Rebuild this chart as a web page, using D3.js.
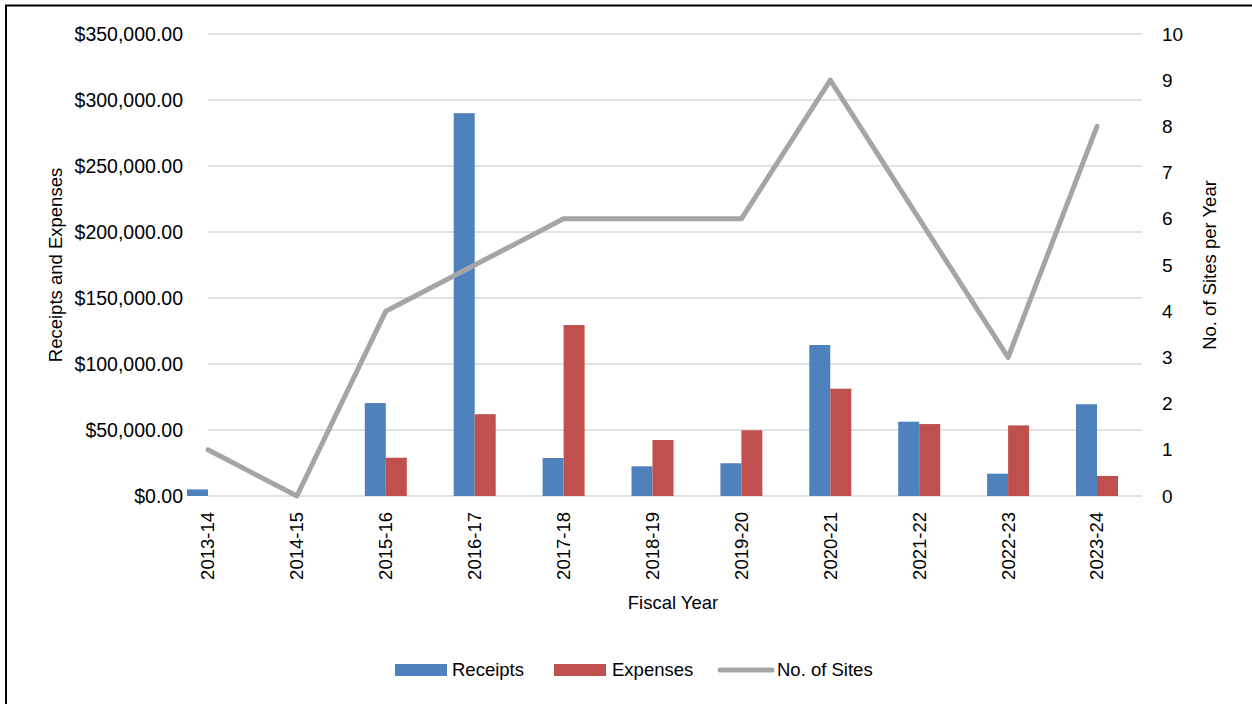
<!DOCTYPE html>
<html>
<head>
<meta charset="utf-8">
<script src="https://cdnjs.cloudflare.com/ajax/libs/d3/7.8.5/d3.min.js"></script>
<style>
  body { margin: 0; background: #fff; }
  text { font-family: "Liberation Sans", Arial, sans-serif; fill: #000; }
</style>
</head>
<body>
<div id="graphic"></div>
<script>
// Chart data
var years = ['2013-14', '2014-15', '2015-16', '2016-17', '2017-18', '2018-19',
             '2019-20', '2020-21', '2021-22', '2022-23', '2023-24'];
var receipts = [5000, 0, 70400, 290000, 28800, 22500, 24800, 114400, 56300, 16900, 69500];
var expenses = [0, 0, 29000, 62000, 129500, 42400, 49800, 81300, 54500, 53500, 15200];
var sites = [1, 0, 4, 5, 6, 6, 6, 9, 6, 3, 8];
var moneyTicks = [0, 50000, 100000, 150000, 200000, 250000, 300000, 350000];
var siteTicks = [0, 1, 2, 3, 4, 5, 6, 7, 8, 9, 10];

var svgWidth = 1252;
var svgHeight = 704;

var plotLeft = 208, plotRight = 1142, plotTop = 34, plotBottom = 496;
var barWidth = 21;

var svg = d3.select("#graphic")
    .append("svg")
    .attr("width", svgWidth)
    .attr("height", svgHeight);

// outer border (only top and left fall inside the picture)
svg.append("rect")
    .attr("x", 6).attr("y", 5.5)
    .attr("width", 1260).attr("height", 720)
    .attr("fill", "none")
    .attr("stroke", "#000")
    .attr("stroke-width", 2);

var x = d3.scalePoint()
    .domain(years)
    .range([plotLeft, 1097]);

var yLeft = d3.scaleLinear()
    .domain([0, 350000])
    .range([plotBottom, plotTop]);

var yRight = d3.scaleLinear()
    .domain([0, 10])
    .range([plotBottom, plotTop]);

// gridlines
svg.append("g")
    .selectAll("line")
    .data(moneyTicks)
    .enter()
    .append("line")
    .attr("x1", plotLeft)
    .attr("x2", plotRight)
    .attr("y1", function(d) { return yLeft(d); })
    .attr("y2", function(d) { return yLeft(d); })
    .attr("stroke", "#d9d9d9")
    .attr("stroke-width", 1.5);

// left axis labels
var fmtMoney = d3.format("$,.2f");
svg.append("g")
    .selectAll("text")
    .data(moneyTicks)
    .enter()
    .append("text")
    .attr("x", 183)
    .attr("y", function(d) { return yLeft(d); })
    .attr("dy", "0.35em")
    .attr("text-anchor", "end")
    .style("font-size", "19.5px")
    .text(function(d) { return fmtMoney(d); });

// right axis labels
svg.append("g")
    .selectAll("text")
    .data(siteTicks)
    .enter()
    .append("text")
    .attr("x", 1162)
    .attr("y", function(d) { return yRight(d); })
    .attr("dy", "0.35em")
    .attr("text-anchor", "start")
    .style("font-size", "19px")
    .text(function(d) { return d; });

// category labels, rotated
svg.append("g")
    .selectAll("text")
    .data(years)
    .enter()
    .append("text")
    .attr("transform", function(d) { return "translate(" + x(d) + ",512) rotate(-90)"; })
    .attr("dy", "0.35em")
    .attr("text-anchor", "end")
    .style("font-size", "18.5px")
    .text(function(d) { return d; });

// bars
var bars = svg.append("g");
bars.selectAll("rect.receipts")
    .data(receipts)
    .enter()
    .append("rect")
    .attr("class", "receipts")
    .attr("x", function(d, i) { return x(years[i]) - barWidth; })
    .attr("y", function(d) { return yLeft(d); })
    .attr("width", barWidth)
    .attr("height", function(d) { return plotBottom - yLeft(d); })
    .attr("fill", "#4f81bd");

bars.selectAll("rect.expenses")
    .data(expenses)
    .enter()
    .append("rect")
    .attr("class", "expenses")
    .attr("x", function(d, i) { return x(years[i]); })
    .attr("y", function(d) { return yLeft(d); })
    .attr("width", barWidth)
    .attr("height", function(d) { return plotBottom - yLeft(d); })
    .attr("fill", "#c0504d");

// sites line
var line = d3.line()
    .x(function(d, i) { return x(years[i]); })
    .y(function(d) { return yRight(d); });

svg.append("path")
    .datum(sites)
    .attr("d", line)
    .attr("fill", "none")
    .attr("stroke", "#a5a5a5")
    .attr("stroke-width", 5)
    .attr("stroke-linejoin", "round")
    .attr("stroke-linecap", "round");

// axis titles
svg.append("text")
    .attr("transform", "translate(56,265) rotate(-90)")
    .attr("dy", "0.35em")
    .attr("text-anchor", "middle")
    .style("font-size", "18.5px")
    .text("Receipts and Expenses");

svg.append("text")
    .attr("transform", "translate(1210,265) rotate(-90)")
    .attr("dy", "0.35em")
    .attr("text-anchor", "middle")
    .style("font-size", "18.5px")
    .text("No. of Sites per Year");

svg.append("text")
    .attr("x", 673)
    .attr("y", 603)
    .attr("dy", "0.35em")
    .attr("text-anchor", "middle")
    .style("font-size", "18.5px")
    .text("Fiscal Year");

// legend
var legend = svg.append("g");
var legendItems = [
    { name: "Receipts", color: "#4f81bd", type: "rect", x: 395, tx: 452 },
    { name: "Expenses", color: "#c0504d", type: "rect", x: 554, tx: 612 },
    { name: "No. of Sites", color: "#a5a5a5", type: "line", x: 718, tx: 777 }
];
legendItems.forEach(function(item) {
    if (item.type === "rect") {
        legend.append("rect")
            .attr("x", item.x).attr("y", 664)
            .attr("width", 52).attr("height", 12)
            .attr("fill", item.color);
    } else {
        legend.append("line")
            .attr("x1", item.x + 2).attr("x2", item.x + 54)
            .attr("y1", 670).attr("y2", 670)
            .attr("stroke", item.color)
            .attr("stroke-width", 5)
            .attr("stroke-linecap", "round");
    }
    legend.append("text")
        .attr("x", item.tx)
        .attr("y", 670)
        .attr("dy", "0.35em")
        .style("font-size", "18.5px")
        .text(item.name);
});
</script>
</body>
</html>
